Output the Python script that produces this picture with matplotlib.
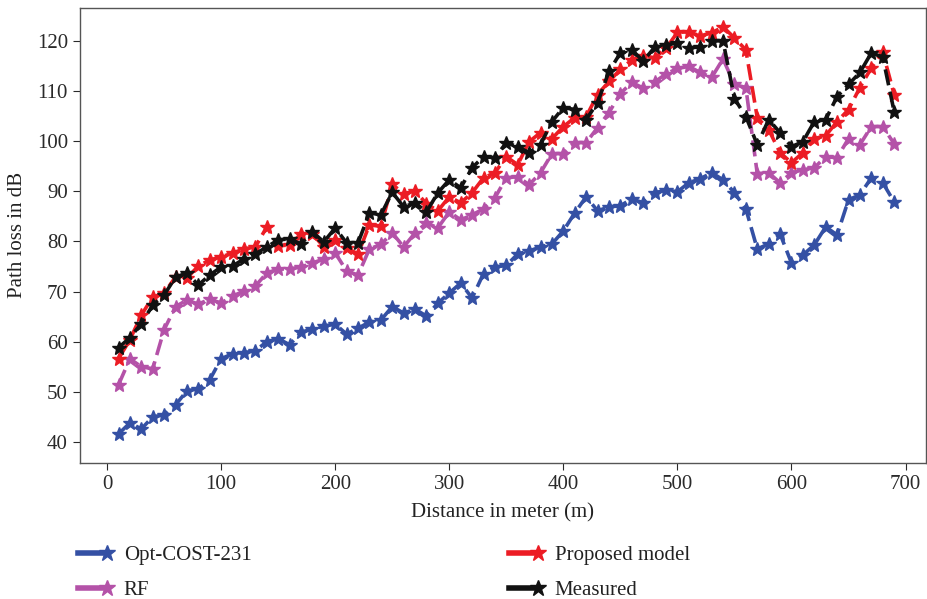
import matplotlib
matplotlib.use("Agg")
import matplotlib.pyplot as plt
from matplotlib.lines import Line2D
from matplotlib.legend_handler import HandlerLine2D

plt.rcParams['font.family'] = ['Liberation Serif', 'DejaVu Serif']

# distance (m)
distance = list(range(10, 700, 10))

# path loss values (dB)
opt_cost231 = [41.6, 43.8, 42.6, 45.0, 45.4, 47.4, 50.2, 50.6, 52.4, 56.6,
               57.6, 57.8, 58.2, 60.0, 60.6, 59.4, 61.9, 62.5, 63.1, 63.5,
               61.5, 62.7, 63.9, 64.3, 67.0, 65.7, 66.5, 65.1, 67.7, 69.7,
               71.7, 68.7, 73.6, 74.9, 75.2, 77.5, 78.1, 78.9, 79.5, 82.1,
               85.7, 88.9, 86.1, 86.9, 87.1, 88.5, 87.7, 89.7, 90.2, 89.9,
               91.7, 92.5, 93.7, 92.3, 89.7, 86.5, 78.5, 79.5, 81.5, 75.7,
               77.3, 79.3, 82.9, 81.3, 88.3, 89.3, 92.7, 91.7, 87.9]

rf = [51.4, 56.6, 55.0, 54.6, 62.4, 67.0, 68.3, 67.5, 68.5, 67.7,
      69.1, 70.1, 71.1, 73.7, 74.5, 74.5, 74.9, 75.7, 76.5, 77.7,
      74.1, 73.3, 78.5, 79.4, 81.7, 78.9, 81.7, 83.7, 82.7, 85.9,
      84.3, 85.3, 86.5, 88.7, 92.7, 92.9, 91.3, 93.7, 97.5, 97.5,
      99.7, 99.7, 102.7, 105.7, 109.5, 111.7, 110.6, 111.8, 113.4, 114.5,
      114.9, 113.7, 112.7, 116.4, 111.3, 110.7, 93.5, 93.7, 91.7, 93.7,
      94.3, 94.7, 96.9, 96.7, 100.5, 99.3, 102.9, 102.9, 99.5]

proposed = [56.6, 60.4, 65.3, 68.9, 69.7, 72.9, 72.7, 75.1, 76.3, 76.9,
            77.7, 78.5, 78.9, 82.9, 79.1, 79.3, 81.5, 81.5, 78.9, 80.3,
            78.7, 77.5, 83.3, 83.0, 91.4, 89.5, 90.1, 87.5, 86.1, 88.9,
            87.7, 89.7, 92.7, 93.7, 96.9, 95.3, 99.9, 101.7, 100.5, 102.9,
            104.7, 104.9, 109.3, 111.9, 114.3, 116.2, 117.0, 116.6, 118.5, 121.7,
            121.8, 121.0, 121.6, 122.8, 120.6, 118.2, 104.7, 102.3, 97.7, 95.7,
            97.7, 100.5, 101.1, 103.9, 106.3, 110.7, 114.6, 117.8, 109.3]

measured = [58.8, 60.8, 63.6, 67.3, 69.3, 72.9, 73.7, 71.3, 73.3, 74.9,
            75.1, 76.5, 77.5, 78.9, 80.3, 80.5, 79.5, 81.9, 79.9, 82.7,
            79.7, 79.7, 85.7, 85.3, 89.8, 86.9, 87.7, 85.9, 89.7, 92.3,
            90.7, 94.7, 96.9, 96.7, 99.7, 98.9, 97.7, 99.3, 103.9, 106.7,
            106.3, 104.3, 107.7, 113.9, 117.6, 118.2, 116.0, 118.7, 119.2, 119.6,
            118.6, 118.8, 120.0, 120.0, 108.5, 104.9, 99.3, 104.3, 101.7, 98.9,
            99.9, 103.9, 104.3, 108.9, 111.3, 113.7, 117.6, 116.8, 105.9]

series = [
    ("Opt-COST-231", opt_cost231, "#3450a4"),
    ("RF", rf, "#b452a8"),
    ("Proposed model", proposed, "#ec1c24"),
    ("Measured", measured, "#111111"),
]


class EndStar(HandlerLine2D):
    # put the star at the right end of the legend line
    def create_artists(self, *args, **kwargs):
        arts = super().create_artists(*args, **kwargs)
        n = len(arts[0].get_xdata())
        arts[0].set_markevery([n - 1])
        return arts


fig = plt.figure(figsize=(9.27, 5.99), dpi=100)
ax = fig.add_axes([0.086, 0.227, 0.913, 0.760])

handles = {}
for name, vals, col in series:
    ax.plot(distance, vals, color=col, lw=2.6, ls=(0, (4.5, 1.8)),
            marker='*', ms=10, mec=col, mfc=col)
    handles[name] = Line2D([], [], color=col, lw=4, marker='*', ms=12,
                           mec=col, mfc=col)

ax.set_xlim(-24, 718)
ax.set_ylim(35.8, 126.6)
ax.set_xticks(range(0, 701, 100))
ax.set_yticks(range(40, 121, 10))
ax.tick_params(labelsize=15, colors='#2a2a2a', length=5)
for s in ax.spines.values():
    s.set_color('#555555')
    s.set_linewidth(1.0)

ax.set_xlabel("Distance in meter (m)", fontsize=15, color='#222222', labelpad=7)
ax.set_ylabel("Path loss in dB", fontsize=15, color='#222222', labelpad=7)

kw = dict(frameon=False, fontsize=15, handlelength=1.4, handletextpad=0.8,
          labelspacing=0.75, numpoints=1, handler_map={Line2D: EndStar()},
          loc='upper left', borderaxespad=0, borderpad=0)
leg1 = fig.legend([handles["Opt-COST-231"], handles["RF"]], ["Opt-COST-231", "RF"],
                  bbox_to_anchor=(0.084, 0.089), **kw)
leg2 = fig.legend([handles["Proposed model"], handles["Measured"]],
                  ["Proposed model", "Measured"],
                  bbox_to_anchor=(0.549, 0.089), **kw)
for leg in (leg1, leg2):
    for t in leg.get_texts():
        t.set_color('#222222')

fig.savefig("out.png", dpi=100)
